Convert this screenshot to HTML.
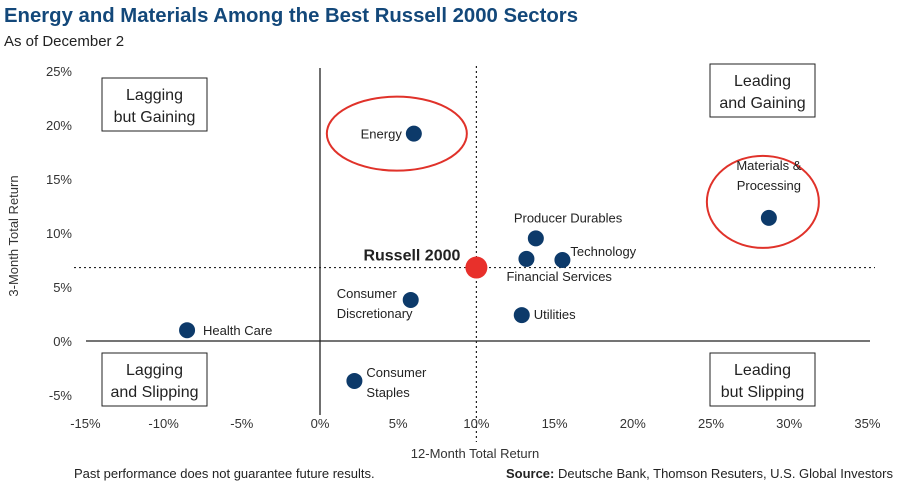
<!DOCTYPE html>
<html><head><meta charset="utf-8"><style>
body{margin:0;background:#fff;font-family:"Liberation Sans",sans-serif;}
svg{display:block}
</style></head><body>
<svg id="chart" width="900" height="488" viewBox="0 0 900 488">
<text x="4" y="22" font-size="20" font-weight="bold" fill="#13487a" textLength="574" lengthAdjust="spacingAndGlyphs">Energy and Materials Among the Best Russell 2000 Sectors</text>
<text x="4" y="46" font-size="15" fill="#222">As of December 2</text>
<g id="axes"></g>
<g id="quads"></g>
<g id="marks"></g>
<text x="475" y="458" font-size="13" fill="#333" text-anchor="middle">12-Month Total Return</text>
<text transform="translate(18,236) rotate(-90)" font-size="13" fill="#333" text-anchor="middle">3-Month Total Return</text>
<text x="74" y="478" font-size="13" fill="#222">Past performance does not guarantee future results.</text>
<text x="893" y="478" font-size="13" fill="#222" text-anchor="end"><tspan font-weight="bold">Source:</tspan> Deutsche Bank, Thomson Resuters, U.S. Global Investors</text>
</svg>
<script>
const names=["Energy","Materials & Processing","Producer Durables","Financial Services","Technology","Russell 2000","Consumer Discretionary","Utilities","Health Care","Consumer Staples"];
const x12=[6.0,28.7,13.8,13.2,15.5,10.0,5.8,12.9,-8.5,2.2];
const y3=[19.2,11.4,9.5,7.6,7.5,6.8,3.8,2.4,1.0,-3.7];
const xTicks=[-15,-10,-5,0,5,10,15,20,25,30,35];
const yTicks=[25,20,15,10,5,0,-5];
const refX=10, refY=6.8;
const NS="http://www.w3.org/2000/svg";
function sx(v){return 320+v*15.64;}
function sy(v){return 341-v*10.8;}
function mk(tag,attrs,parent,txt){const e=document.createElementNS(NS,tag);for(const k in attrs)e.setAttribute(k,attrs[k]);if(txt!==undefined)e.textContent=txt;parent.appendChild(e);return e;}
const axes=document.getElementById('axes'),marks=document.getElementById('marks'),quads=document.getElementById('quads');
let e;
e=mk('line',{x1:sx(0),x2:sx(0),y1:68,y2:415,stroke:'#222','stroke-width':1.3},axes);

e=mk('line',{x1:86,x2:870,y1:sy(0),y2:sy(0),stroke:'#222','stroke-width':1.3},axes);

e=mk('line',{x1:sx(refX),x2:sx(refX),y1:66,y2:442,stroke:'#222','stroke-width':1.2,'stroke-dasharray':'2,3'},axes);

e=mk('line',{x1:74,x2:875,y1:sy(refY),y2:sy(refY),stroke:'#222','stroke-width':1.2,'stroke-dasharray':'2,3'},axes);

xTicks.forEach(t=>{e=mk('text',{x:sx(t),y:428,'font-size':13,fill:'#333','text-anchor':'middle'},axes,t+'%');
});
yTicks.forEach(t=>{e=mk('text',{x:72,y:sy(t)+5,'font-size':13,fill:'#333','text-anchor':'end'},axes,t+'%');
});
const qs=[[102,78,105,53,'Lagging','but Gaining','quadrant-lagging-gaining'],[710,64,105,53,'Leading','and Gaining','quadrant-leading-gaining'],[102,353,105,53,'Lagging','and Slipping','quadrant-lagging-slipping'],[710,353,105,53,'Leading','but Slipping','quadrant-leading-slipping']];
qs.forEach(q=>{const g=mk('g',{},quads);
mk('rect',{x:q[0],y:q[1],width:q[2],height:q[3],fill:'#fff',stroke:'#222','stroke-width':1},g);
mk('text',{x:q[0]+q[2]/2,y:q[1]+22,'font-size':16,fill:'#222','text-anchor':'middle'},g,q[4]);
mk('text',{x:q[0]+q[2]/2,y:q[1]+44,'font-size':16,fill:'#222','text-anchor':'middle'},g,q[5]);});
e=mk('ellipse',{cx:sx(x12[0])-17,cy:sy(y3[0]),rx:70,ry:37,fill:'none',stroke:'#e0322a','stroke-width':2},marks);

e=mk('ellipse',{cx:sx(x12[1])-6,cy:sy(y3[1])-16,rx:56,ry:46,fill:'none',stroke:'#e0322a','stroke-width':2},marks);

const lab=[[-12,5,'end'],[0,-44,'middle'],[-22,-16,'start'],[-20,22,'start'],[8,-4,'start'],[-16,-7,'end'],[-74,2,'start'],[12,4,'start'],[16,5,'start'],[12,0,'start']];
names.forEach((n,i)=>{const cx=sx(x12[i]),cy=sy(y3[i]);const big=n==="Russell 2000";
e=mk('circle',{cx:cx,cy:cy,r:big?11:8,fill:big?'#e8302b':'#0d3a6a'},marks);


const l=lab[i];const parts=n==="Materials & Processing"?["Materials &","Processing"]:n==="Consumer Discretionary"?["Consumer","Discretionary"]:n==="Consumer Staples"?["Consumer","Staples"]:[n];
const t=mk('text',{x:cx+l[0],y:cy+l[1],'font-size':big?16:13,'font-weight':big?'bold':'normal',fill:'#222','text-anchor':l[2]},marks);


parts.forEach((p,j)=>{mk('tspan',{x:cx+l[0],dy:j?20:(parts.length>1?-4:0)},t,p);});});
</script>
</body></html>
